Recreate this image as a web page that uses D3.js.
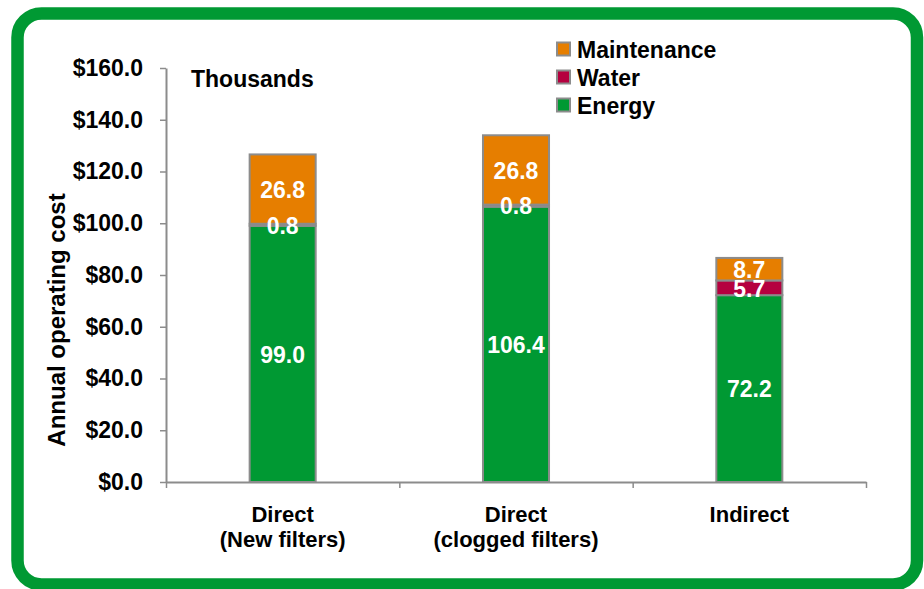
<!DOCTYPE html>
<html>
<head>
<meta charset="utf-8">
<script src="https://cdn.jsdelivr.net/npm/d3@7"></script>
<style>
  html, body { margin: 0; padding: 0; background: #fff; }
  svg { display: block; }
  text { font-family: "Liberation Sans", Arial, sans-serif; font-weight: bold; }
</style>
</head>
<body>
<svg id="chart" width="924" height="589"></svg>
<script>
// ---- data ----
const categories = [["Direct", "(New filters)"], ["Direct", "(clogged filters)"], ["Indirect"]];
const energy = [99.0, 106.4, 72.2];
const water = [0.8, 0.8, 5.7];
const maintenance = [26.8, 26.8, 8.7];
const seriesNames = ["Energy", "Water", "Maintenance"];
const seriesColors = ["#009933", "#B5003F", "#E67E00"];
const yTicks = [0, 20, 40, 60, 80, 100, 120, 140, 160];

const svg = d3.select("#chart");

// frame
svg.append("rect")
  .attr("x", 17.5).attr("y", 13.5)
  .attr("width", 899.5).attr("height", 571)
  .attr("rx", 24).attr("ry", 24)
  .attr("fill", "#fff").attr("stroke", "#009933").attr("stroke-width", 12.5);

const plot = { left: 166, right: 866, top: 68, bottom: 482 };

const y = d3.scaleLinear().domain([0, 160]).range([plot.bottom, plot.top]);
const keys = categories.map((c, i) => "c" + i);
const x = d3.scaleBand().domain(keys).range([plot.left, plot.right])
  .paddingInner(0.717).paddingOuter(0.3585);

const rows = keys.map((k, i) => ({ key: k, Energy: energy[i], Water: water[i], Maintenance: maintenance[i] }));
const stacked = d3.stack().keys(seriesNames)(rows);

// y axis
const yAxis = d3.axisLeft(y).tickValues(yTicks).tickSize(6).tickSizeOuter(0).tickPadding(17)
  .tickFormat(d => "$" + d.toFixed(1));
const gy = svg.append("g").attr("transform", `translate(${plot.left},0)`).call(yAxis);
gy.select(".domain").attr("stroke", "#8c8c8c").attr("stroke-width", 2);
gy.selectAll(".tick line").attr("stroke", "#8c8c8c").attr("stroke-width", 1.5);
gy.selectAll(".tick text").attr("fill", "#000").style("font-size", "23px")
  .style("font-family", '"Liberation Sans", Arial, sans-serif').style("font-weight", "bold");

// x axis (boundary ticks)
const xb = d3.scaleLinear().domain([0, categories.length]).range([plot.left, plot.right]);
const xAxis = d3.axisBottom(xb).tickValues(d3.range(categories.length + 1)).tickSize(6).tickSizeOuter(0).tickFormat("");
const gx = svg.append("g").attr("transform", `translate(0,${plot.bottom})`).call(xAxis);
gx.select(".domain").attr("stroke", "#8c8c8c").attr("stroke-width", 2);
gx.selectAll(".tick line").attr("stroke", "#8c8c8c").attr("stroke-width", 1.5);

// bars
const layers = svg.append("g").selectAll("g").data(stacked).join("g")
  .attr("fill", (d, i) => seriesColors[i]);
layers.selectAll("rect").data(d => d).join("rect")
  .attr("x", d => x(d.data.key))
  .attr("y", d => y(d[1]))
  .attr("width", x.bandwidth())
  .attr("height", d => y(d[0]) - y(d[1]))
  .attr("stroke", "#8c8c8c").attr("stroke-width", 2);

// value labels (drawn after all bars)
const labelData = stacked.flatMap(s => s.map(d => d));
svg.append("g").selectAll("text").data(labelData).join("text")
  .attr("x", d => x(d.data.key) + x.bandwidth() / 2)
  .attr("y", d => (y(d[0]) + y(d[1])) / 2)
  .attr("dy", "0.38em")
  .attr("text-anchor", "middle")
  .attr("fill", "#fff")
  .style("font-size", "23px")
  .text(d => (d[1] - d[0]).toFixed(1));

// category labels
categories.forEach((lines, i) => {
  const t = svg.append("text")
    .attr("x", x(keys[i]) + x.bandwidth() / 2)
    .attr("y", 522)
    .attr("text-anchor", "middle")
    .attr("fill", "#000")
    .style("font-size", "22px");
  lines.forEach((ln, j) => {
    t.append("tspan").attr("x", x(keys[i]) + x.bandwidth() / 2).attr("dy", j === 0 ? 0 : 25).text(ln);
  });
});

// "Thousands"
svg.append("text").attr("x", 191).attr("y", 87).attr("fill", "#000")
  .style("font-size", "23px").text("Thousands");

// y axis title
svg.append("text")
  .attr("transform", "translate(65,320) rotate(-90)")
  .attr("text-anchor", "middle").attr("fill", "#000")
  .style("font-size", "24px")
  .text("Annual operating cost");

// legend (top to bottom: Maintenance, Water, Energy)
const legendOrder = [2, 1, 0];
const lg = svg.append("g");
legendOrder.forEach((si, r) => {
  const cy = 49 + r * 28;
  lg.append("rect").attr("x", 557).attr("y", cy - 6.5).attr("width", 13).attr("height", 13)
    .attr("fill", seriesColors[si]).attr("stroke", "#8c8c8c").attr("stroke-width", 2);
  lg.append("text").attr("x", 577).attr("y", cy + 8.5).attr("fill", "#000")
    .style("font-size", "23px").text(seriesNames[si]);
});
</script>
</body>
</html>
